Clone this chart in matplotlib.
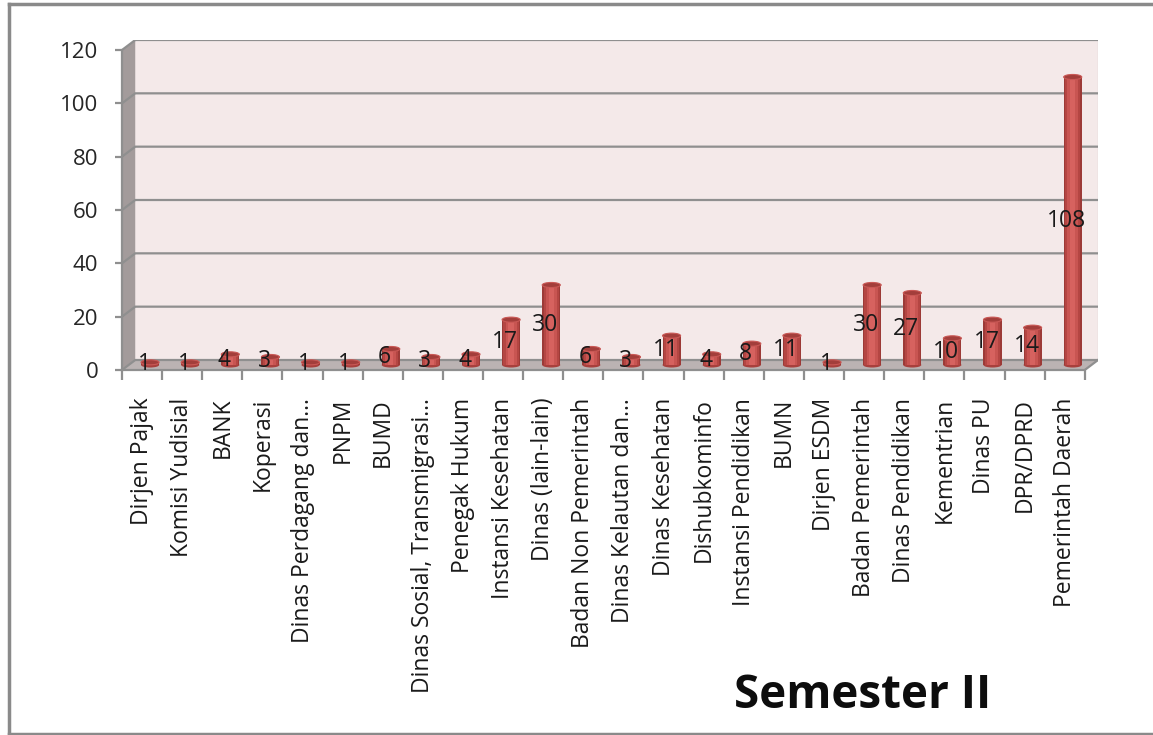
import numpy as np
import matplotlib.pyplot as plt
from matplotlib.patches import Polygon, Ellipse

categories = [
    'Dirjen Pajak', 'Komisi Yudisial', 'BANK', 'Koperasi',
    'Dinas Perdagang dan…', 'PNPM', 'BUMD', 'Dinas Sosial, Transmigrasi…',
    'Penegak Hukum', 'Instansi Kesehatan', 'Dinas (lain-lain)',
    'Badan Non Pemerintah', 'Dinas Kelautan dan…', 'Dinas Kesehatan',
    'Dishubkominfo', 'Instansi Pendidikan', 'BUMN', 'Dirjen ESDM',
    'Badan Pemerintah', 'Dinas Pendidikan', 'Kementrian', 'Dinas PU',
    'DPR/DPRD', 'Pemerintah Daerah',
]
values = [1, 1, 4, 3, 1, 1, 6, 3, 4, 17, 30, 6, 3, 11, 4, 8, 11, 1, 30, 27, 10, 17, 14, 108]
y_ticks = [0, 20, 40, 60, 80, 100, 120]

plt.rcParams['font.family'] = ['Open Sans', 'DejaVu Sans']

W, H = 1153, 735
fig = plt.figure(figsize=(W / 100, H / 100), dpi=100)

n = len(categories)
ymax = 120
# depth offset of the 3D box (in data units)
dx, dy = 0.33, 3.75

ax = fig.add_axes([122 / W, 1 - 370 / H, (1098 - 122) / W, 330 / H])
ax.set_xlim(0, n + dx)
ax.set_ylim(0, ymax + dy)

grid_c = '#8f8f8f'
# walls
ax.add_patch(Polygon([(dx, dy), (n + dx, dy), (n + dx, ymax + dy), (dx, ymax + dy)],
                     closed=True, facecolor='#f4e9e9', edgecolor='none', zorder=0))
ax.add_patch(Polygon([(0, 0), (dx, dy), (dx, ymax + dy), (0, ymax)],
                     closed=True, facecolor='#a39b9b', edgecolor='none', zorder=0))
ax.add_patch(Polygon([(0, 0), (n, 0), (n + dx, dy), (dx, dy)],
                     closed=True, facecolor='#bbb3b3', edgecolor='none', zorder=0))
ax.plot([n + dx, n + dx], [dy, ymax + dy], color='#dcd4d4', lw=1, zorder=1)
for v in y_ticks:
    ax.plot([0, dx, n + dx], [v, v + dy, v + dy], color=grid_c, lw=1.6, zorder=1,
            solid_capstyle='butt')
ax.plot([n, n + dx], [0, dy], color=grid_c, lw=1.6, zorder=1)

# cylinders
bw = 0.45
base = dy / 2
xc = np.arange(n) + 0.5 + 0.2
shades = [(1.0, '#9c3a37'), (0.85, '#b44643'), (0.6, '#c85552'), (0.3, '#d6625f')]
for x, v in zip(xc, values):
    ax.add_patch(Ellipse((x, base), bw, 1.9, facecolor='#a8403d', edgecolor='none', zorder=3))
    for frac, col in shades:
        ax.bar(x, v, width=bw * frac, bottom=base, color=col, zorder=3)
    ax.add_patch(Ellipse((x, base + v), bw, 1.9, facecolor='#a33e3b',
                         edgecolor='#c95855', lw=0.8, zorder=4))
    ax.text(x - 0.15, base + v / 2, str(v), ha='center', va='center',
            fontsize=16.5, color='#1a1a1a', zorder=5)

# axes
for s in ['top', 'right']:
    ax.spines[s].set_visible(False)
ax.spines['left'].set_bounds(0, ymax)
ax.spines['bottom'].set_bounds(0, n)
ax.spines['left'].set_color(grid_c)
ax.spines['bottom'].set_color(grid_c)
ax.spines['left'].set_linewidth(1.6)
ax.spines['bottom'].set_linewidth(1.6)
ax.set_yticks(y_ticks)
ax.tick_params(axis='y', length=5, width=1.6, color=grid_c, pad=12, labelsize=16,
               labelcolor='#262626')
ax.set_xticks(np.arange(n) + 0.5)
ax.set_xticklabels(categories, rotation=90, va='top', ha='center')
ax.set_xticks(np.arange(n + 1), minor=True)
ax.tick_params(axis='x', which='major', length=0, pad=20, labelsize=16.5,
               labelcolor='#1a1a1a')
ax.tick_params(axis='x', which='minor', length=7.5, width=1.6, color=grid_c)

fig.text(863 / W, 1 - 695 / H, 'Semester II', ha='center', va='center',
         fontsize=33, fontweight='bold', color='#0d0d0d')

# outer frame (cropped on the right)
frame_c = '#8a8a8a'
fig.add_artist(plt.Line2D([9 / W, 9 / W], [1 - 4 / H, 1 - 734 / H], transform=fig.transFigure,
                          color=frame_c, lw=2.5))
fig.add_artist(plt.Line2D([9 / W, 1], [1 - 4 / H, 1 - 4 / H], transform=fig.transFigure,
                          color=frame_c, lw=2.5))
fig.add_artist(plt.Line2D([9 / W, 1], [1 - 734 / H, 1 - 734 / H], transform=fig.transFigure,
                          color=frame_c, lw=2.5))

fig.savefig('out.png', dpi=100)
